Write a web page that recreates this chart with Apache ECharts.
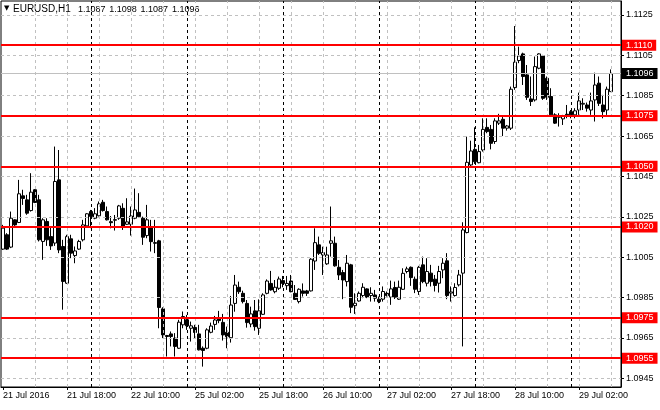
<!DOCTYPE html>
<html>
<head>
<meta charset="utf-8">
<script src="https://cdn.jsdelivr.net/npm/echarts@6.0.0/dist/echarts.min.js"></script>
<style>
  html, body { margin: 0; padding: 0; background: #fff; }
  #main { width: 660px; height: 410px; }
</style>
</head>
<body>
<div id="main"></div>
<script>
// EURUSD H1, 21 Jul 2016 02:00 .. 29 Jul 2016 10:00
var symbol = 'EURUSD,H1';

// trading days shown: [day label, first hour, last hour]
var days = [
    ['21 Jul', 2, 23], ['22 Jul', 0, 23], ['25 Jul', 0, 23], ['26 Jul', 0, 23],
    ['27 Jul', 0, 23], ['28 Jul', 0, 23], ['29 Jul', 0, 10]
];
var xTickLabels = ['21 Jul 2016', '21 Jul 18:00', '22 Jul 10:00', '25 Jul 02:00', '25 Jul 18:00',
    '26 Jul 10:00', '27 Jul 02:00', '27 Jul 18:00', '28 Jul 10:00', '29 Jul 02:00'];
var yTicks = [1.0945, 1.0965, 1.0985, 1.1005, 1.1025, 1.1045, 1.1065, 1.1085, 1.1105, 1.1125];
var levels = [1.1110, 1.1075, 1.1050, 1.1020, 1.0975, 1.0955];
var bidPrice = 1.1096;

var open = [
    1.10090,1.10161,1.10100,1.10235,1.10222,1.10354,1.10334,1.10281,1.10384,1.10334,
    1.10128,1.10227,1.10152,1.10120,1.10433,1.10103,1.09921,1.10141,1.10058,1.10090,
    1.10136,1.10205,1.10276,1.10243,1.10255,1.10322,1.10276,1.10226,1.10233,1.10243,
    1.10292,1.10213,1.10213,1.10243,1.10272,1.10243,1.10157,1.10201,1.10122,1.10131,
    1.09794,1.09662,1.09670,1.09649,1.09599,1.09715,1.09740,1.09698,1.09702,1.09670,
    1.09599,1.09599,1.09678,1.09717,1.09744,1.09727,1.09678,1.09651,1.09821,1.09901,
    1.09871,1.09821,1.09719,1.09784,1.09698,1.09767,1.09871,1.09920,1.09879,1.09896,
    1.09934,1.09909,1.09932,1.09871,1.09830,1.09883,1.09883,1.09883,1.10031,1.10111,
    1.10061,1.10017,1.10119,1.10119,1.10000,1.09974,1.09929,1.10012,1.09810,1.09833,
    1.09860,1.09893,1.09860,1.09863,1.09842,1.09842,1.09871,1.09852,1.09900,1.09842,
    1.09891,1.09979,1.10000,1.09941,1.09880,1.10012,1.09921,1.09971,1.09941,1.09921,
    1.09987,1.10032,1.09872,1.09860,1.09913,1.09971,1.10172,1.10507,1.10584,1.10518,
    1.10581,1.10693,1.10683,1.10623,1.10714,1.10733,1.10689,1.10689,1.10890,1.11024,
    1.11057,1.10953,1.10834,1.10829,1.10986,1.11047,1.10936,1.10846,1.10755,1.10743,
    1.10735,1.10758,1.10771,1.10755,1.10779,1.10808,1.10804,1.10779,1.10829,1.10912,
    1.10804,1.10779,1.10870
];
var close = [
    1.10194,1.10090,1.10243,1.10210,1.10364,1.10341,1.10268,1.10372,1.10321,1.10136,
    1.10235,1.10136,1.10106,1.10425,1.10086,1.09930,1.10152,1.10070,1.10081,1.10128,
    1.10210,1.10265,1.10252,1.10265,1.10314,1.10281,1.10235,1.10221,1.10236,1.10304,
    1.10201,1.10225,1.10254,1.10284,1.10251,1.10149,1.10235,1.10127,1.10119,1.09801,
    1.09665,1.09657,1.09657,1.09608,1.09728,1.09756,1.09710,1.09710,1.09677,1.09591,
    1.09588,1.09690,1.09709,1.09739,1.09736,1.09665,1.09656,1.09813,1.09912,1.09879,
    1.09830,1.09726,1.09769,1.09706,1.09784,1.09863,1.09932,1.09888,1.09901,1.09942,
    1.09920,1.09920,1.09879,1.09841,1.09891,1.09871,1.09871,1.10040,1.10122,1.10069,
    1.10073,1.10061,1.10131,1.10007,1.09962,1.09937,1.10020,1.09802,1.09822,1.09871,
    1.09901,1.09852,1.09871,1.09847,1.09830,1.09880,1.09860,1.09893,1.09852,1.09901,
    1.09970,1.09992,1.09949,1.09891,1.10000,1.09929,1.09979,1.09929,1.09910,1.09979,
    1.10020,1.09860,1.09878,1.09900,1.09962,1.10185,1.10520,1.10576,1.10523,1.10573,
    1.10683,1.10672,1.10614,1.10725,1.10725,1.10689,1.10700,1.10882,1.11016,1.11047,
    1.10945,1.10842,1.10821,1.10994,1.11057,1.10837,1.10842,1.10755,1.10714,1.10747,
    1.10747,1.10753,1.10755,1.10775,1.10824,1.10812,1.10788,1.10824,1.10903,1.10812,
    1.10771,1.10882,1.10960
];
var low = [
    1.10086,1.10086,1.10095,1.10205,1.10219,1.10309,1.10260,1.10276,1.10318,1.10128,
    1.10037,1.10106,1.10086,1.10106,1.10070,1.09790,1.09918,1.10045,1.10020,1.10086,
    1.10128,1.10199,1.10194,1.10238,1.10252,1.10276,1.10232,1.10193,1.10182,1.10235,
    1.10185,1.10210,1.10157,1.10238,1.10248,1.10111,1.10144,1.10078,1.10070,1.09698,
    1.09649,1.09558,1.09608,1.09558,1.09596,1.09698,1.09690,1.09632,1.09649,1.09588,
    1.09508,1.09594,1.09673,1.09690,1.09723,1.09637,1.09599,1.09627,1.09780,1.09868,
    1.09821,1.09701,1.09703,1.09686,1.09665,1.09764,1.09866,1.09884,1.09871,1.09888,
    1.09901,1.09888,1.09876,1.09838,1.09821,1.09855,1.09858,1.09880,1.09987,1.10061,
    1.09962,1.10012,1.10053,1.10003,1.09937,1.09842,1.09905,1.09773,1.09769,1.09830,
    1.09847,1.09847,1.09830,1.09830,1.09822,1.09830,1.09855,1.09814,1.09843,1.09838,
    1.09888,1.09970,1.09908,1.09872,1.09863,1.09921,1.09905,1.09905,1.09880,1.09875,
    1.09946,1.09842,1.09830,1.09855,1.09905,1.09608,1.10168,1.10502,1.10512,1.10515,
    1.10573,1.10664,1.10584,1.10611,1.10705,1.10650,1.10677,1.10680,1.10879,1.11011,
    1.10903,1.10829,1.10799,1.10821,1.10981,1.10829,1.10829,1.10747,1.10710,1.10697,
    1.10705,1.10738,1.10738,1.10738,1.10755,1.10779,1.10771,1.10755,1.10722,1.10799,
    1.10738,1.10755,1.10870
];
var high = [
    1.10210,1.10169,1.10276,1.10238,1.10433,1.10384,1.10359,1.10466,1.10387,1.10359,
    1.10243,1.10243,1.10202,1.10598,1.10581,1.10136,1.10161,1.10161,1.10103,1.10136,
    1.10235,1.10268,1.10284,1.10293,1.10326,1.10334,1.10301,1.10254,1.10259,1.10309,
    1.10317,1.10342,1.10301,1.10390,1.10367,1.10251,1.10309,1.10235,1.10235,1.10136,
    1.09802,1.09665,1.09682,1.09674,1.09740,1.09781,1.09764,1.09731,1.09715,1.09715,
    1.09608,1.09698,1.09726,1.09759,1.09784,1.09769,1.09706,1.09858,1.09962,1.09929,
    1.09884,1.09838,1.09805,1.09838,1.09841,1.09871,1.09940,1.09982,1.09937,1.09954,
    1.09957,1.09957,1.09962,1.09912,1.09896,1.09920,1.09888,1.10045,1.10193,1.10152,
    1.10102,1.10102,1.10301,1.10152,1.10036,1.09987,1.10061,1.10017,1.09871,1.09880,
    1.09921,1.09896,1.09901,1.09888,1.09855,1.09905,1.09880,1.09934,1.09929,1.09934,
    1.09995,1.10003,1.10004,1.09954,1.10007,1.10053,1.10045,1.10012,1.09962,1.10007,
    1.10045,1.10070,1.09905,1.09921,1.09987,1.10223,1.10647,1.10627,1.10693,1.10606,
    1.10738,1.10738,1.10705,1.10738,1.10760,1.10750,1.10705,1.10895,1.11195,1.11093,
    1.11063,1.11002,1.10945,1.11044,1.11060,1.11052,1.10945,1.10887,1.10763,1.10763,
    1.10755,1.10804,1.10779,1.10788,1.10865,1.10837,1.10816,1.10865,1.10964,1.10945,
    1.10854,1.10895,1.10980
];

var FONT = 'Liberation Sans';

// hourly categories + 2 empty slots of chart shift on the right
var times = [];
var dayStarts = [];
days.forEach(function (d) {
    for (var h = d[1]; h <= d[2]; h++) {
        if (h === 0) dayStarts.push(times.length);
        times.push(d[0] + ' ' + (h < 10 ? '0' : '') + h + ':00');
    }
});
var nBars = times.length;
times.push(' ', '  ');

var candles = [];
for (var i = 0; i < nBars; i++) {
    candles.push([open[i], close[i], low[i], high[i]]);
}

function isTick(index) {
    return index % 16 === 0 && index < nBars;
}

var gridLines = [];
for (var k = 8; k < nBars; k += 8) gridLines.push({xAxis: k});
yTicks.forEach(function (v) { gridLines.push({yAxis: v}); });

var sepLines = dayStarts.map(function (k) { return {xAxis: k}; });

// header: symbol, then O H L C of the last bar
var last = nBars - 1;
var ohlc = [open[last], high[last], low[last], close[last]];
var graphics = [
    {type: 'text', left: 4, top: 5, style: {text: '\u25BC', font: '7px "DejaVu Sans"', fill: '#000'}},
    {type: 'text', left: 13, top: 4, style: {text: symbol, font: '10px "' + FONT + '"', fill: '#000'}}
];
ohlc.forEach(function (v, j) {
    graphics.push({type: 'text', left: 78 + j * 31.3, top: 5,
        style: {text: v.toFixed(4), font: '9px "' + FONT + '"', fill: '#000'}});
});

function levelLabel(bg) {
    return {
        show: true, position: 'end', distance: 1,
        backgroundColor: bg, color: '#fff', padding: [1, 4, 1, 4],
        fontFamily: FONT, fontSize: 9, lineHeight: 9,
        formatter: function (p) { return Number(p.value).toFixed(4); }
    };
}

var chart = echarts.init(document.getElementById('main'));
chart.setOption({
    animation: false,
    backgroundColor: '#fff',
    grid: {
        left: 1, right: 39, top: 1, bottom: 23,
        show: true, borderColor: '#000', borderWidth: 1, backgroundColor: '#fff'
    },
    graphic: graphics,
    xAxis: {
        type: 'category',
        data: times,
        boundaryGap: true,
        axisLine: {lineStyle: {color: '#000', width: 1}},
        axisTick: {show: true, alignWithLabel: true, length: 3, interval: isTick, lineStyle: {color: '#000'}},
        axisLabel: {
            interval: isTick,
            align: 'left',
            margin: 4,
            color: '#000',
            fontFamily: FONT,
            fontSize: 9,
            formatter: function (val, index) { return xTickLabels[index / 16] || ''; }
        },
        splitLine: {show: false}
    },
    yAxis: {
        type: 'value',
        position: 'right',
        min: 1.09407,
        max: 1.11319,
        axisLine: {show: true, lineStyle: {color: '#000', width: 1}},
        axisTick: {show: true, length: 3, customValues: yTicks, lineStyle: {color: '#000'}},
        axisLabel: {
            customValues: yTicks,
            margin: 5,
            color: '#000',
            fontFamily: FONT,
            fontSize: 9,
            formatter: function (v) { return v.toFixed(4); }
        },
        splitLine: {show: false}
    },
    series: [
        {
            // background grid
            type: 'scatter',
            data: [],
            z: 1,
            markLine: {
                silent: true, symbol: 'none', precision: 5, animation: false,
                label: {show: false},
                lineStyle: {color: '#c0c0c0', type: [3, 3], width: 1},
                data: gridLines
            }
        },
        {
            // day separators
            type: 'scatter',
            data: [],
            z: 1,
            markLine: {
                silent: true, symbol: 'none', precision: 5, animation: false,
                label: {show: false},
                lineStyle: {color: '#000', type: [3, 3], width: 1},
                data: sepLines
            }
        },
        {
            // bid line
            type: 'scatter',
            data: [],
            z: 1,
            markLine: {
                silent: true, symbol: 'none', precision: 5, animation: false,
                lineStyle: {color: '#c0c0c0', type: 'solid', width: 1},
                label: levelLabel('#000'),
                data: [{yAxis: bidPrice}]
            }
        },
        {
            type: 'candlestick',
            data: candles,
            z: 2,
            barWidth: 3,
            silent: true,
            itemStyle: {
                color: '#fff', color0: '#000',
                borderColor: '#000', borderColor0: '#000', borderWidth: 1
            }
        },
        {
            // horizontal level lines
            type: 'scatter',
            data: [],
            z: 3,
            markLine: {
                silent: true, symbol: 'none', precision: 5, animation: false,
                lineStyle: {color: '#ff0000', type: 'solid', width: 2},
                label: levelLabel('#ff0000'),
                data: levels.map(function (v) { return {yAxis: v}; })
            }
        }
    ]
});
</script>
</body>
</html>
